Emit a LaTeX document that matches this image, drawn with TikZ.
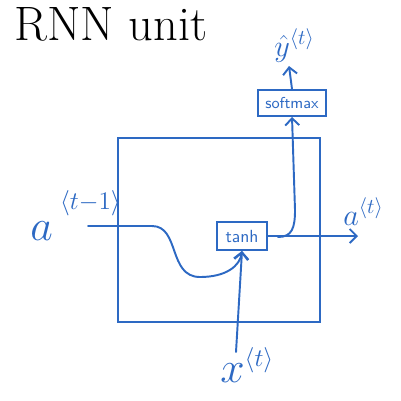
\documentclass[tikz,border=0pt]{standalone}
\usetikzlibrary{arrows.meta}
\definecolor{penblue}{RGB}{45,105,195}
\tikzset{
	pen/.style={penblue, line width=1.1pt, line cap=round, line join=round},
	flow/.style={pen, -{Straight Barb[length=4pt, width=8pt]}},
	gatebox/.style={draw=penblue, line width=1.1pt, rectangle, inner sep=0pt, text=penblue, font=\sffamily},
	bigsym/.style={text=penblue, font=\fontsize{34}{34}\selectfont, inner sep=0pt},
	smallsym/.style={text=penblue, font=\LARGE, inner sep=0pt}
}
\newcommand{\highsup}[2][0.25em]{^{\raisebox{#1}{\fontsize{14}{14}\selectfont$#2$}}}
\begin{document}
\begin{tikzpicture}[x=0.02cm, y=-0.02cm]
	\useasboundingbox (0,0) rectangle (401,400);
	\node[anchor=base west, font=\fontsize{27.5}{30}\selectfont, inner sep=0pt] (title) at (14,40) {RNN unit};

	\node[draw=penblue, line width=1.1pt, minimum width=4.04cm, minimum height=3.68cm] (cell) at (219,230) {};
	\node[gatebox, minimum width=1cm, minimum height=0.56cm] (tanhbox) at (242,236) {tanh};
	\node[gatebox, font=\sffamily\small, minimum width=1.36cm, minimum height=0.52cm] (softbox) at (292,103) {softmax};

	\node[bigsym, anchor=base west] (aprev) at (30,240) {$a\,\highsup{\langle t{-}1\rangle}$};
	\node[smallsym, anchor=base west] (anext) at (343,225) {$a^{\langle t\rangle}$};
	\node[bigsym, anchor=base west] (xin) at (220,382) {$x\highsup[0pt]{\langle t\rangle}$};
	\node[smallsym, anchor=base west] (yout) at (274,56) {$\hat{y}^{\langle t\rangle}$};

	\coordinate (ain) at (88,226);
	\coordinate (aend) at (358,236);
	\coordinate (xstart) at (236,352);
	\coordinate (split) at (278,237);
	\coordinate (yend) at (289,66);

	\draw[flow] (ain) -- (152,226) .. controls (180,226) and (168,277) .. (200,277) .. controls (226,277) and (240,266) .. (tanhbox.south);
	\draw[flow] (xstart) -- (tanhbox.south);
	\draw[flow] (tanhbox.east) -- (aend);
	\draw[flow] (split) .. controls (292,237) and (295,228) .. (295,210) -- (softbox.south);
	\draw[flow] (softbox.north) -- (yend);
\end{tikzpicture}
\end{document}
